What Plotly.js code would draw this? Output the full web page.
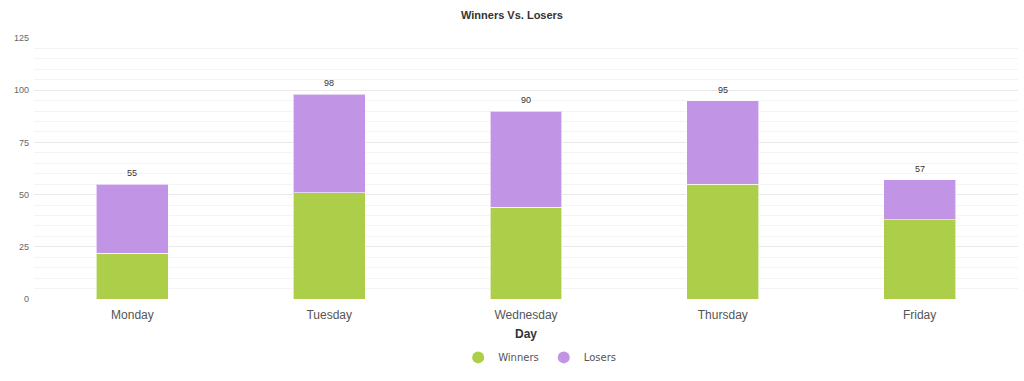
<!DOCTYPE html>
<html><head><meta charset="utf-8">
<script src="https://cdn.plot.ly/plotly-3.0.1.min.js"></script>
<style>html,body{margin:0;padding:0;background:#fff}#chart{width:1024px;height:381px}</style>
</head><body><div id="chart"></div>
<script>
const days = ["Monday","Tuesday","Wednesday","Thursday","Friday"];
const winners = [22, 51, 44, 55, 38];
const losers = [33, 47, 46, 40, 19];
const totals = days.map((d,i)=>winners[i]+losers[i]);
const greenC = "rgb(173,206,73)";
const purpleC = "rgb(194,148,230)";

const traces = [
  {type:"bar", x:days, y:winners, name:"Winners", marker:{color:greenC, line:{color:"rgba(255,255,255,0.6)", width:1}}, showlegend:false, hoverinfo:"y"},
  {type:"bar", x:days, y:losers, name:"Losers", marker:{color:purpleC, line:{color:"rgba(255,255,255,0.6)", width:1}}, showlegend:false, hoverinfo:"y"},
  {type:"scatter", mode:"markers", x:[null], y:[null], name:"Winners", marker:{color:greenC, size:11, symbol:"circle"}},
  {type:"scatter", mode:"markers", x:[null], y:[null], name:"Losers", marker:{color:purpleC, size:11, symbol:"circle"}}
];

const annotations = days.map((d,i)=>({x:d, y:totals[i], text:String(totals[i]), showarrow:false, yanchor:"bottom", yshift:4, font:{family:"Liberation Sans, Arial", size:9, color:"#333"}}));

const layout = {
  width:1024, height:381,
  margin:{l:34, r:6, t:38, b:82, autoexpand:false},
  paper_bgcolor:"#fff", plot_bgcolor:"#fff",
  barmode:"stack", bargap:0.635,
  title:{text:"<b>Winners Vs. Losers</b>", x:0.5, xanchor:"center", y:0.96, yanchor:"middle", font:{family:"Liberation Sans, Arial", size:11, color:"#333"}},
  xaxis:{type:"category", automargin:false, showgrid:false, zeroline:false, showline:false, ticks:"", ticklabelstandoff:7, tickfont:{family:"Liberation Sans, Arial", size:12, color:"#555"},
         title:{text:"<b>Day</b>", standoff:8, font:{family:"Liberation Sans, Arial", size:12, color:"#333"}}},
  yaxis:{range:[0,125], dtick:25, tick0:0, automargin:false, showgrid:true, gridcolor:"#e9e9e9", gridwidth:1, zeroline:false, showline:false, ticks:"",
         tickfont:{family:"Liberation Sans, Arial", size:9, color:"#666"}, ticklabelstandoff:4,
         minor:{dtick:5, showgrid:true, gridcolor:"#f4f4f4", gridwidth:1}},
  legend:{orientation:"h", x:0.527, xanchor:"center", xref:"container", y:0.062, yanchor:"middle", yref:"container", font:{family:"DejaVu Sans", size:10, color:"#555"}, itemsizing:"constant", traceorder:"normal"},
  annotations:annotations,
  showlegend:true
};
Plotly.newPlot("chart", traces, layout, {displayModeBar:false, staticPlot:true});
</script></body></html>
